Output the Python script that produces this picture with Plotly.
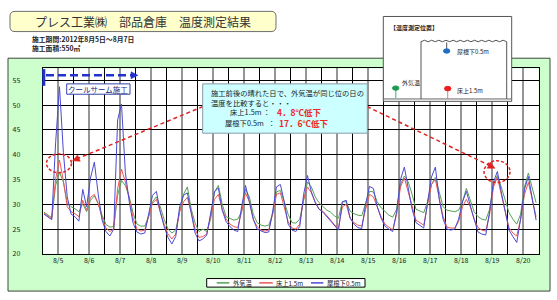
import plotly.graph_objects as go

# ---------------- data ----------------
# sampling hours counted from 8/5 00:00 (every 3 h, offset 1 h)
hours = list(range(1, 384, 3))
date_labels = ["8/5", "8/6", "8/7", "8/8", "8/9", "8/10", "8/11", "8/12",
               "8/13", "8/14", "8/15", "8/16", "8/17", "8/18", "8/19", "8/20"]
y_ticks = [20, 25, 30, 35, 40, 45, 50, 55]

series_names = ["外気温", "床上1.5m", "屋根下0.5m"]
series_colors = ["#55a055", "#ec5656", "#4a4ad4"]

outside_temp = [
    28.4, 27.9, 27.3, 33.8, 36.5, 34.5, 30.3, 29.5,
    29.1, 28.5, 30.1, 28.5, 30.8, 31.7, 30.1, 27.8,
    25.9, 25.4, 25.5, 31.8, 34.8, 33.8, 31.5, 28.2,
    26.0, 25.6, 25.6, 27.5, 30.5, 31.5, 29.5, 27.0,
    25.0, 24.2, 24.8, 28.5, 32.0, 33.5, 29.0, 26.2,
    24.5, 25.0, 24.5, 27.0, 32.5, 33.8, 30.0, 27.5,
    27.2, 26.8, 27.0, 28.5, 33.0, 31.5, 28.0, 26.3,
    25.8, 25.6, 25.8, 28.0, 32.5, 32.8, 30.5, 28.0,
    26.3, 26.2, 27.0, 31.0, 34.5, 33.5, 31.5, 30.3,
    29.5, 28.8, 28.4, 27.6, 27.2, 30.5, 30.5, 28.6,
    28.1, 27.8, 27.7, 30.0, 32.6, 32.5, 30.5, 29.3,
    28.5, 27.8, 27.4, 29.0, 34.0, 35.7, 34.5, 32.0,
    29.0, 28.6, 28.3, 30.5, 34.0, 35.4, 32.5, 29.5,
    28.8, 28.6, 28.5, 28.8, 30.5, 33.2, 31.0, 28.5,
    27.5, 27.0, 26.8, 29.0, 34.0, 35.8, 33.5, 31.0,
    28.3, 27.0, 26.0, 28.0, 33.5, 36.3, 33.5, 30.3,
]
floor_1_5m = [
    28.2, 27.7, 27.1, 35.1, 38.9, 34.8, 29.5, 28.5,
    28.1, 27.5, 30.8, 28.8, 31.4, 32.0, 30.1, 27.2,
    25.2, 24.5, 25.0, 33.1, 37.1, 34.5, 31.2, 27.2,
    25.0, 24.6, 24.8, 27.5, 30.2, 31.0, 28.5, 26.0,
    24.0, 23.0, 24.0, 28.5, 30.5, 31.4, 28.3, 25.0,
    23.3, 23.5, 24.0, 27.5, 31.0, 32.0, 29.0, 27.0,
    26.0, 25.5, 25.3, 28.5, 32.3, 30.5, 27.0, 25.5,
    24.8, 24.6, 24.8, 28.0, 32.0, 32.3, 29.5, 26.5,
    25.2, 25.0, 26.0, 31.0, 33.5, 32.3, 30.5, 29.0,
    28.6, 27.8, 26.8, 25.8, 25.3, 29.5, 30.0, 27.2,
    26.3, 25.8, 25.6, 29.0, 32.0, 31.5, 29.5, 27.5,
    26.0, 25.3, 24.8, 28.0, 33.5, 35.3, 32.5, 29.5,
    26.8, 26.3, 25.8, 30.0, 34.0, 35.0, 31.0, 27.5,
    25.4, 25.2, 25.2, 26.5, 29.5, 31.0, 29.5, 27.0,
    25.3, 24.8, 24.6, 28.0, 33.5, 35.5, 32.0, 28.5,
    25.3, 24.2, 23.6, 27.0, 32.0, 34.4, 31.0, 27.5,
]
under_roof_0_5m = [
    28.0, 27.5, 26.9, 42.4, 53.7, 40.5, 31.5, 28.0,
    27.5, 26.6, 33.0, 29.5, 35.3, 38.5, 32.0, 26.8,
    24.5, 23.6, 25.0, 47.0, 50.2, 36.4, 30.5, 26.2,
    24.4, 24.0, 24.2, 28.0, 31.8, 32.6, 28.5, 25.5,
    23.3, 22.0, 23.5, 29.5, 31.8, 32.3, 28.0, 24.2,
    22.6, 23.0, 23.8, 28.0, 32.5, 33.3, 28.8, 26.5,
    25.5, 24.8, 24.5, 29.5, 33.8, 30.5, 27.0, 25.0,
    24.6, 24.3, 24.4, 28.5, 33.5, 34.0, 30.5, 26.0,
    24.8, 24.5, 25.5, 32.0, 35.8, 32.5, 30.3, 29.0,
    28.4, 27.5, 26.5, 25.6, 24.8, 30.5, 30.8, 27.2,
    26.0, 25.3, 25.1, 30.0, 33.6, 33.2, 29.5, 27.2,
    25.6, 25.0, 24.5, 28.5, 35.0, 37.5, 33.5, 29.0,
    26.3, 25.8, 25.2, 30.5, 35.5, 37.5, 31.0, 27.0,
    25.0, 24.8, 25.0, 27.0, 30.5, 32.6, 29.5, 27.0,
    24.4, 24.0, 23.8, 28.5, 34.5, 36.6, 32.5, 28.5,
    24.8, 23.5, 22.3, 27.0, 33.0, 35.6, 31.0, 26.8,
]

# ---------------- helpers (pixel -> paper) ----------------
W, H = 557, 300
FONT = "Noto Sans CJK JP"


def px(x):
    return x / W


def py(y):
    return 1 - y / H


shapes = []
annotations = []


def rect(x0, y0, x1, y1, fill, line="#000", width=1, layer="above", dash=None):
    ln = dict(color=line, width=width)
    if dash:
        ln["dash"] = dash
    shapes.append(dict(type="rect", xref="paper", yref="paper",
                       x0=px(x0), x1=px(x1), y0=py(y1), y1=py(y0),
                       fillcolor=fill, line=ln, layer=layer))


def line(x0, y0, x1, y1, color, width=1, dash=None, layer="above"):
    ln = dict(color=color, width=width)
    if dash:
        ln["dash"] = dash
    shapes.append(dict(type="line", xref="paper", yref="paper",
                       x0=px(x0), x1=px(x1), y0=py(y0), y1=py(y1),
                       line=ln, layer=layer))


def path(points_cmds, fill=None, color="#000", width=1, layer="above"):
    shapes.append(dict(type="path", xref="paper", yref="paper", path=points_cmds,
                       fillcolor=fill if fill else "rgba(0,0,0,0)",
                       line=dict(color=color, width=width), layer=layer))


def P(x, y):
    return f"{px(x):.5f},{py(y):.5f}"


def arrowhead(tipx, tipy, fromx, fromy, length, half, color):
    dx, dy = tipx - fromx, tipy - fromy
    d = (dx * dx + dy * dy) ** 0.5
    ux, uy = dx / d, dy / d
    bx, by = tipx - ux * length, tipy - uy * length
    nx, ny = -uy, ux
    p = (f"M {P(tipx, tipy)} L {P(bx + nx * half, by + ny * half)} "
         f"L {P(bx - nx * half, by - ny * half)} Z")
    path(p, fill=color, color=color, width=0.5)


def ellipse(cx, cy, rx, ry, fill, color, width=1, dash=None, layer="above"):
    ln = dict(color=color, width=width)
    if dash:
        ln["dash"] = dash
    shapes.append(dict(type="circle", xref="paper", yref="paper",
                       x0=px(cx - rx), x1=px(cx + rx), y0=py(cy + ry), y1=py(cy - ry),
                       fillcolor=fill, line=ln, layer=layer))


def text(x, y, s, size=7, color="#222", xanchor="left", bold=False, align="left"):
    annotations.append(dict(xref="paper", yref="paper", x=px(x), y=py(y), text=s,
                            showarrow=False, xanchor=xanchor, yanchor="middle",
                            align=align,
                            font=dict(family=FONT, size=size, color=color,
                                      weight="bold" if bold else "normal")))


# ---------------- background panels ----------------
rect(8, 59, 550, 295, "#ccffcc", line="#3c463c", width=1, layer="below")
rect(42.7, 69.3, 538.7, 257.3, "#ffffff", line="#ffffff", width=0, layer="below")

# ---------------- header ----------------
r = 5
x0, y0, x1, y1 = 10, 11.5, 276, 32
hdr = (f"M {P(x0 + r, y0)} L {P(x1 - r, y0)} Q {P(x1, y0)} {P(x1, y0 + r)} "
       f"L {P(x1, y1 - r)} Q {P(x1, y1)} {P(x1 - r, y1)} L {P(x0 + r, y1)} "
       f"Q {P(x0, y1)} {P(x0, y1 - r)} L {P(x0, y0 + r)} Q {P(x0, y0)} {P(x0 + r, y0)} Z")
path(hdr, fill="#ffffcc", color="#6e6e6e", width=1)
text(142.5, 21.8, "プレス工業㈱　部品倉庫　温度測定結果", size=12, color="#333", xanchor="center")
text(30, 44, "施工期間:2012年8月5日～8月7日<br>施工面積:550㎡", size=6.8, color="#222", bold=True)

# ---------------- blue construction arrow ----------------
line(43.8, 70, 43.8, 87, "#2233cc", width=3)
line(46, 76.3, 131, 76.3, "#2233cc", width=2.5, dash="8px,4px")
arrowhead(138, 76.3, 128, 76.3, 7, 3.6, "#2233cc")
rect(66.7, 85, 130, 95.5, "#ffffff", line="#3344aa", width=1)
text(98.3, 90.3, "クールサーム施工", size=7.5, color="#1a237e", xanchor="center")

# ---------------- callout ----------------
ellipse(59, 165.5, 12.5, 9.5, "rgba(0,0,0,0)", "#e02020", width=1.5, dash="3px,2px")
ellipse(497, 174, 13, 11, "rgba(0,0,0,0)", "#e02020", width=1.5, dash="3px,2px")
line(203, 108, 78, 160.5, "#e02020", width=1.5, dash="4px,3px")
arrowhead(72.5, 163, 203, 108, 7, 3.5, "#e02020")
line(367, 108, 489, 167.5, "#e02020", width=1.5, dash="4px,3px")
arrowhead(495, 170.5, 367, 108, 7, 3.5, "#e02020")

rect(202.7, 85, 367.3, 135, "#ccffff", line="#8a9aa8", width=1)
text(208.5, 94.5, "施工前後の晴れた日で、外気温が同じ位の日の", size=7.3, color="#222")
text(208.5, 104.5, "温度を比較すると・・・", size=7.3, color="#222")
text(228, 114, "床上1.5m", size=7.3, color="#222")
text(266, 114, "：", size=7.3, color="#222", xanchor="center")
text(275, 114, "4．8℃低下", size=8.5, color="#f02828", bold=True)
text(223, 124.5, "屋根下0.5m", size=7.3, color="#222")
text(271.5, 124.5, "：", size=7.3, color="#222", xanchor="center")
text(277, 124.5, "17．6℃低下", size=8.5, color="#f02828", bold=True)

# ---------------- inset: measuring positions ----------------
rect(383.3, 16.7, 511.7, 102.7, "#ffffff", line="#555555", width=1)
text(388, 27.5, "【温度測定位置】", size=6, color="#222", bold=True)
line(384, 100.3, 511, 100.3, "#666666", width=1)
line(421, 42.3, 421, 100.3, "#555555", width=1)
line(506.7, 42.3, 506.7, 100.3, "#555555", width=1)
wave = f"M {P(421, 42.3)}"
xx = 421.0
step = (506.7 - 421.0) / 12
for i in range(12):
    wave += f" Q {P(xx + step / 2, 39.3)} {P(xx + step, 42.3)}"
    xx += step
path(wave, color="#555555", width=1)
line(446.7, 43, 446.7, 50, "#555555", width=1)
ellipse(446.7, 51.7, 3.2, 2.2, "#1f6fc5", "#1f6fc5")
text(455, 52, "屋根下0.5m", size=6, color="#222")
line(447.7, 91, 447.7, 100.3, "#e87a7a", width=1)
ellipse(447.7, 89.8, 3.2, 2.3, "#ee1c1c", "#ee1c1c")
text(455, 91.5, "床上1.5m", size=6, color="#222")
line(395.7, 90.5, 395.7, 100.3, "#7ac99a", width=1.5)
ellipse(395.7, 89.3, 3.2, 2.2, "#1e9a52", "#1e9a52")
text(399.5, 84, "外気温", size=6, color="#222")

# ---------------- manual legend ----------------
rect(206.7, 282.3, 365, 291, "#ffffff", line="#000000", width=1)
leg_line_x = [(216.7, 229.3), (259.3, 272.7), (311, 323.3)]
leg_text_x = [231, 274, 325]
for (a, b), tx, nm, col in zip(leg_line_x, leg_text_x, series_names, series_colors):
    line(a, 286.7, b, 286.7, col, width=1.5)
    text(tx, 286.9, nm, size=6.3, color="#222")

# ---------------- traces ----------------
fig = go.Figure()
for nm, col, ys in zip(series_names, series_colors,
                       [outside_temp, floor_1_5m, under_roof_0_5m]):
    fig.add_trace(go.Scatter(x=hours, y=ys, mode="lines", name=nm,
                             line=dict(color=col, width=1.0),
                             showlegend=False, hoverinfo="skip"))

fig.update_layout(
    width=W, height=H,
    margin=dict(l=0, r=0, t=0, b=0),
    paper_bgcolor="#ffffff",
    plot_bgcolor="rgba(0,0,0,0)",
    font=dict(family=FONT, size=7, color="#222"),
    shapes=shapes,
    annotations=annotations,
    xaxis=dict(
        domain=[px(42.7), px(538.7)],
        range=[0, 384],
        tickvals=[12 + 24 * i for i in range(len(date_labels))],
        ticktext=date_labels,
        showgrid=True, gridcolor="#969696", gridwidth=2,
        minor=dict(tickmode="linear", tick0=0, dtick=24, showgrid=True,
                   gridcolor="#000000", gridwidth=1, ticks=""),
        showline=True, linecolor="#000000", linewidth=1, mirror=True,
        ticks="", zeroline=False,
        tickfont=dict(size=7, color="#222"),
    ),
    yaxis=dict(
        domain=[py(257.3), py(69.3)],
        range=[20, 57.4],
        tickvals=y_ticks,
        showgrid=True, gridcolor="#000000", gridwidth=1,
        showline=True, linecolor="#000000", linewidth=1, mirror=True,
        ticks="", zeroline=False,
        ticklabelstandoff=20,
        tickfont=dict(size=7, color="#222"),
    ),
)

fig.write_html("out.html")
